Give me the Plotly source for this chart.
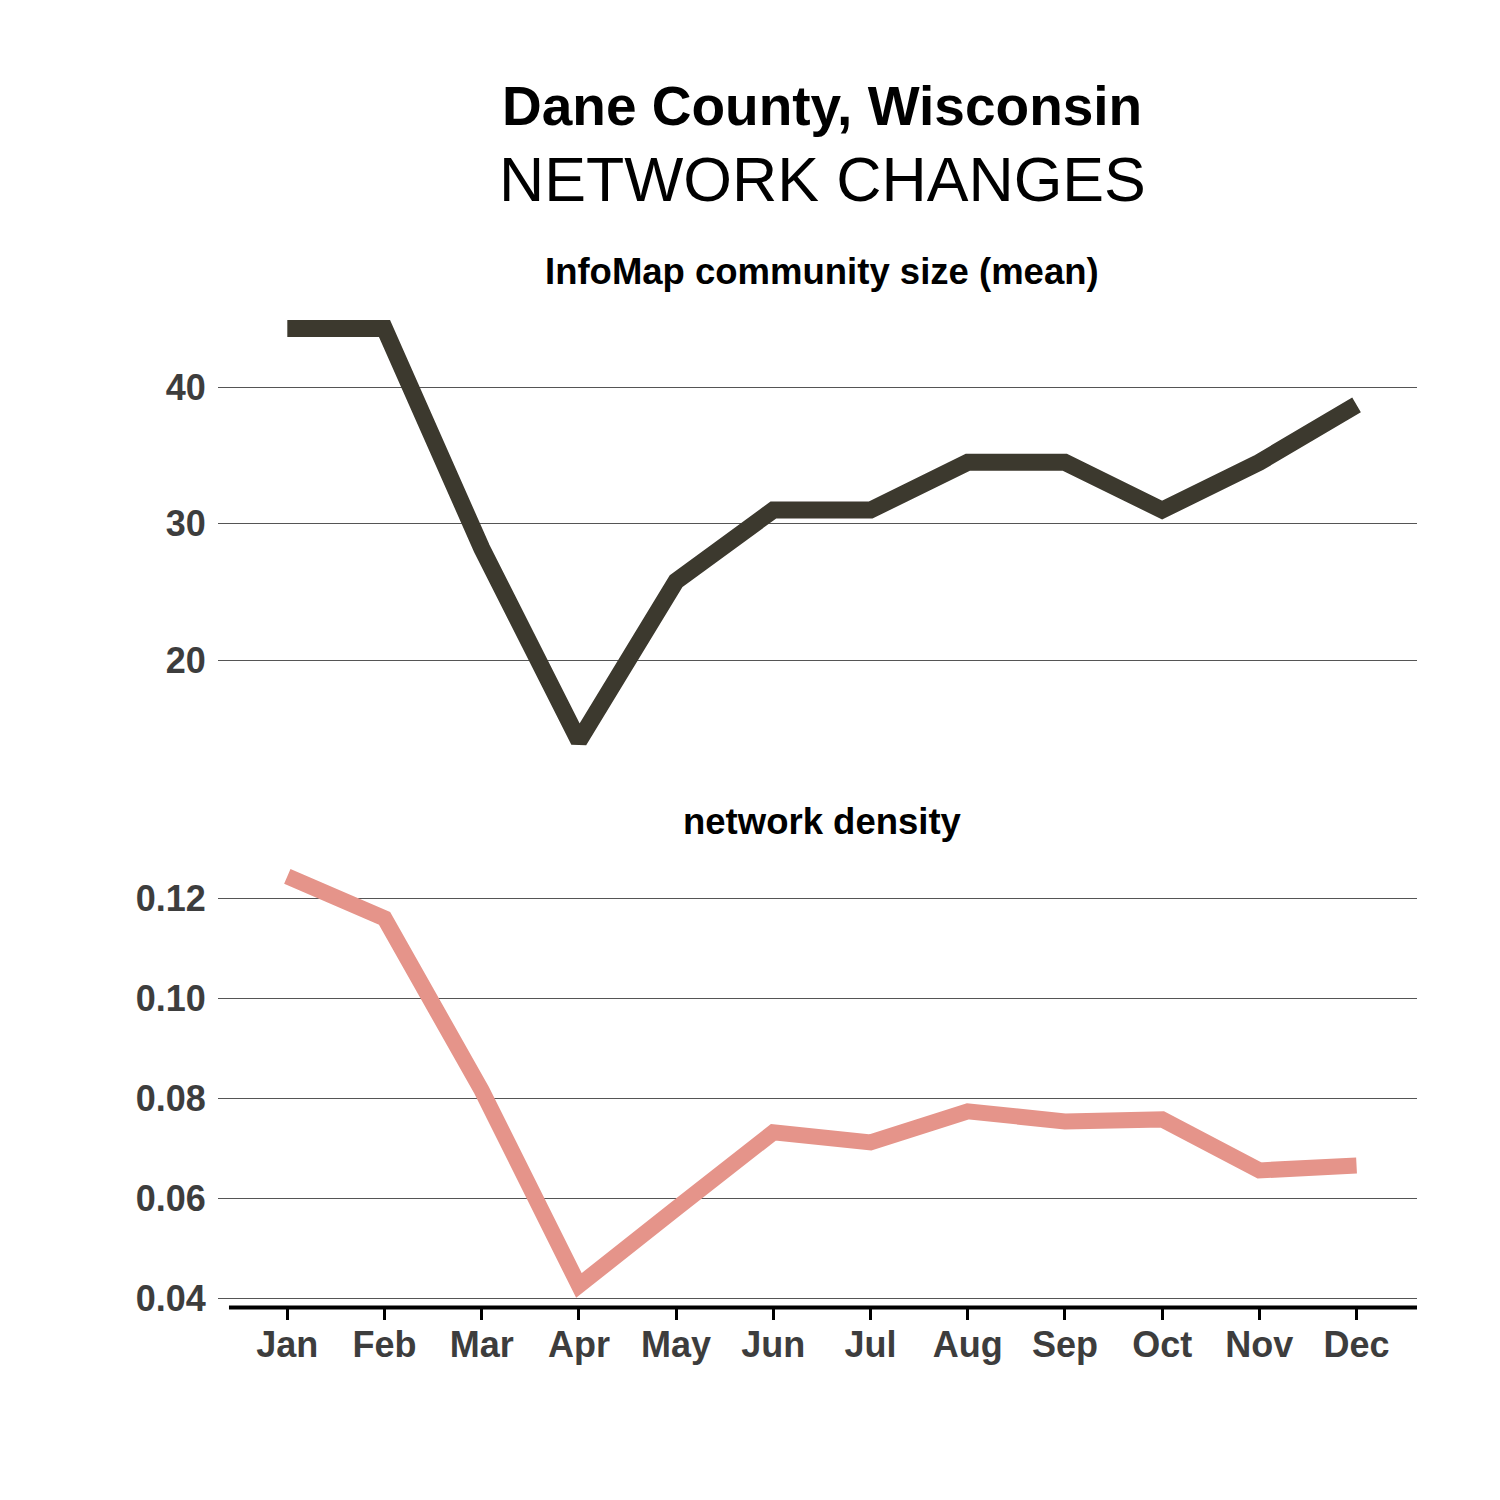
import plotly.graph_objects as go

months = ["Jan", "Feb", "Mar", "Apr", "May", "Jun", "Jul", "Aug", "Sep", "Oct", "Nov", "Dec"]
community_size = [44.3, 44.3, 28.2, 14.1, 25.8, 31.0, 31.0, 34.5, 34.5, 31.0, 34.5, 38.7]
density = [0.1244, 0.1160, 0.0816, 0.0426, 0.0580, 0.0732, 0.0712, 0.0774, 0.0754, 0.0758, 0.0656, 0.0666]
size_ticks = [20, 30, 40]
density_ticks = [0.04, 0.06, 0.08, 0.10, 0.12]

FONT = "Liberation Sans"
TICK_COLOR = "#3d3d3d"
GRID = "#555555"

# page body has an 8px default margin; keep the figure well inside the window
OFF = 8
W = 1460
YK = 0.9908  # observed vertical capture scale


def px_x(p):
    return (p - OFF) / W


def px_y(p):
    return 1 - (p / YK - OFF) / W


fig = go.Figure()
fig.add_trace(go.Scatter(x=months, y=community_size, mode="lines",
                         line=dict(color="#3c392e", width=17),
                         xaxis="x", yaxis="y", showlegend=False))
fig.add_trace(go.Scatter(x=months, y=density, mode="lines",
                         line=dict(color="#e5948a", width=16),
                         xaxis="x2", yaxis="y2", showlegend=False))

xr = [-0.713, 11.622]
xdom = [px_x(218), px_x(1417)]
tickfont = dict(family=FONT, size=36, color=TICK_COLOR, weight="bold")

fig.update_layout(
    width=W, height=W,
    margin=dict(l=0, r=0, t=0, b=0),
    paper_bgcolor="white", plot_bgcolor="white",
    font=dict(family=FONT),
    xaxis=dict(domain=xdom, range=xr, anchor="y", type="category", showticklabels=False,
               showgrid=False, zeroline=False, ticks="", showline=False),
    yaxis=dict(domain=[px_y(761), px_y(307.8)], range=[12.6, 45.8],
               tickvals=size_ticks, ticks="outside", ticklen=4, tickcolor="rgba(0,0,0,0)",
               tickfont=tickfont,
               showgrid=True, gridcolor=GRID, gridwidth=1, zeroline=False, showline=False,
               anchor="x"),
    xaxis2=dict(domain=xdom, range=xr, anchor="y2", type="category",
                tickvals=months, ticktext=months,
                ticks="outside", ticklen=13, tickwidth=3, tickcolor="black",
                ticklabelstandoff=-6,
                tickfont=tickfont,
                showgrid=False, zeroline=False, showline=False),
    yaxis2=dict(domain=[px_y(1305.5), px_y(855.5)], range=[0.0385, 0.1285],
                tickvals=density_ticks, tickformat=".2f",
                ticks="outside", ticklen=4, tickcolor="rgba(0,0,0,0)",
                tickfont=tickfont,
                showgrid=True, gridcolor=GRID, gridwidth=1, zeroline=False, showline=False,
                anchor="x2"),
)

# bottom axis line
fig.add_shape(type="line", xref="x2", yref="paper", x0=-0.6, x1=xr[1],
              y0=px_y(1307), y1=px_y(1307),
              line=dict(color="black", width=4))

cx = px_x(822)
anns = [
    ("<b>Dane County, Wisconsin</b>", 106, 55),
    ("NETWORK CHANGES", 179, 62.6),
    ("<b>InfoMap community size (mean)</b>", 271, 36.5),
    ("<b>network density</b>", 821, 36.5),
]
for text, ypx, size in anns:
    fig.add_annotation(text=text, xref="paper", yref="paper", x=cx, y=px_y(ypx),
                       xanchor="center", yanchor="middle", showarrow=False,
                       font=dict(family=FONT, size=size, color="black"))

fig.write_html("out.html")
